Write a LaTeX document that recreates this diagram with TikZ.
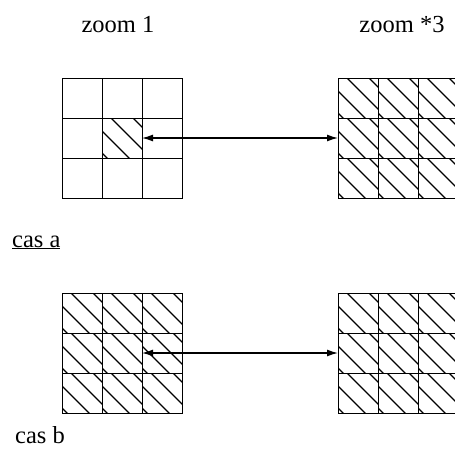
\documentclass[tikz,border=0pt]{standalone}
\usepackage{fontspec}
\setmainfont{Liberation Serif}
\usetikzlibrary{arrows.meta}
\begin{document}
\begin{tikzpicture}[x = 1pt, y = -1pt,
        cell/.style = {draw, line width = 1pt, minimum size = 40pt, inner sep = 0pt, outer sep = 0pt},
        hatched/.style = {cell, path picture = {
            \foreach \c in {-35, -13, 9, 31}
                \draw[line width = 1.2pt] ([shift = {(\c - 5, -5)}]path picture bounding box.north west) -- ++(50, 50);
        }},
        txt/.style = {font = \fontsize{24.5}{29}\selectfont, inner sep = 0pt, anchor = base},
        zoomarrow/.style = {{Latex[length = 11pt, width = 7pt]}-{Latex[length = 11pt, width = 7pt]}, line width = 1.3pt}]
        \clip (0, 0) rectangle (455, 452);
        % zoom 1, cas a: only the middle cell
        \foreach \i in {1, 2, 3}{
            \foreach \j in {1, 2, 3}{
                \ifnum\i\j=22 \def\st{hatched}\else\def\st{cell}\fi
                \node[\st] (a-\i-\j) at (62 + 40 * \i - 20, 78 + 40 * \j - 20) {};
            }
        }
        % the other grids, all hatched
        \foreach \gx/\gy/\g in {338/78/b, 62/293/c, 338/293/d}{
            \foreach \i in {1, 2, 3}{
                \foreach \j in {1, 2, 3}{
                    \node[hatched] (\g-\i-\j) at (\gx + 40 * \i - 20, \gy + 40 * \j - 20) {};
                }
            }
        }
        \draw[zoomarrow] (a-2-2.east) -- (b-1-2.west);
        \draw[zoomarrow] (c-2-2.east) -- (d-1-2.west);
        \node[txt] (zoomone) at (118, 33) {zoom 1};
        \node[txt] (zoomthree) at (402, 33) {zoom *3};
        \node[txt, anchor = base west] (casa) at (12, 247) {\underline{cas a}};
        \node[txt, anchor = base west] (casb) at (15, 443) {cas b};
    \end{tikzpicture}
\end{document}
